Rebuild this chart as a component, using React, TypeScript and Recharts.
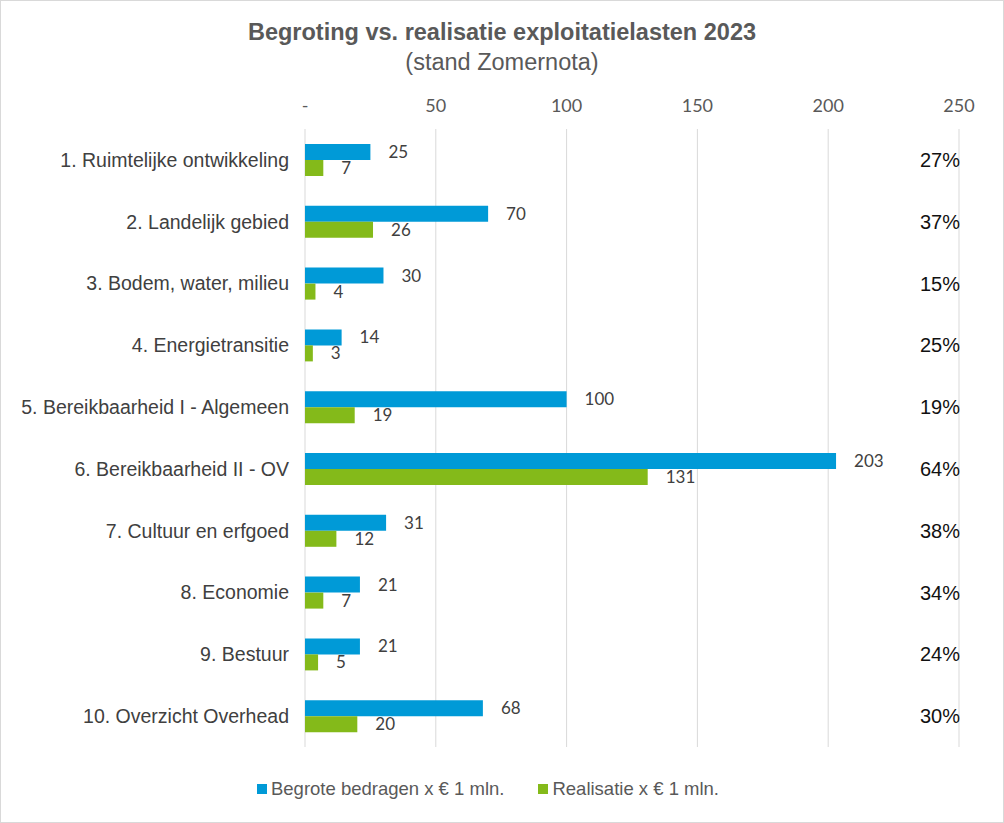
import { BarChart, Bar, XAxis, YAxis, CartesianGrid, Legend, LabelList } from "recharts";

const CATEGORIES = [
  "1. Ruimtelijke ontwikkeling",
  "2. Landelijk gebied",
  "3. Bodem, water, milieu",
  "4. Energietransitie",
  "5. Bereikbaarheid I - Algemeen",
  "6. Bereikbaarheid II - OV",
  "7. Cultuur en erfgoed",
  "8. Economie",
  "9. Bestuur",
  "10. Overzicht Overhead",
];
const BEGROOT = [25, 70, 30, 14, 100, 203, 31, 21, 21, 68];
const REALISATIE = [7, 26, 4, 3, 19, 131, 12, 7, 5, 20];
const PERCENTAGES = ["27%", "37%", "15%", "25%", "19%", "64%", "38%", "34%", "24%", "30%"];
const X_TICKS = [0, 50, 100, 150, 200, 250];

const BLUE = "#009AD7";
const GREEN = "#84BA1A";
const GREY_TEXT = "#595959";
const NUM_FONT = "Lato, 'Open Sans', sans-serif";
const ARIAL = "'Liberation Sans', Arial, sans-serif";

const data = CATEGORIES.map((name, i) => ({
  name,
  begroot: BEGROOT[i],
  realisatie: REALISATIE[i],
  pct: PERCENTAGES[i],
}));

function PctTick(props: any) {
  const { x, y, index } = props;
  return (
    <text x={x} y={y} dy="0.35em" textAnchor="end" fontFamily={ARIAL} fontSize={20} fill="#111">
      {PERCENTAGES[index]}
    </text>
  );
}

function LegendContent() {
  const items = [
    { label: "Begrote bedragen x € 1 mln.", color: BLUE },
    { label: "Realisatie x € 1 mln.", color: GREEN },
  ];
  return (
    <div style={{ display: "flex", justifyContent: "center", gap: 34, marginLeft: -28 }}>
      {items.map((it) => (
        <div key={it.label} style={{ display: "flex", alignItems: "center", gap: 4 }}>
          <span style={{ width: 10, height: 10, background: it.color, display: "inline-block" }} />
          <span style={{ fontFamily: ARIAL, fontSize: 18.5, color: GREY_TEXT }}>{it.label}</span>
        </div>
      ))}
    </div>
  );
}

export default function App() {
  return (
    <div
      style={{
        position: "absolute",
        top: 0,
        left: 0,
        width: 1004,
        height: 823,
        boxSizing: "border-box",
        border: "1px solid #D9D9D9",
        background: "#fff",
      }}
    >
      <div
        style={{
          position: "absolute",
          top: 16,
          left: 0,
          width: 1002,
          textAlign: "center",
          fontFamily: ARIAL,
          color: GREY_TEXT,
          fontSize: 23.5,
          lineHeight: "30px",
        }}
      >
        <div style={{ fontWeight: "bold" }}>Begroting vs. realisatie exploitatielasten 2023</div>
        <div>(stand Zomernota)</div>
      </div>
      <BarChart
        width={1002}
        height={821}
        data={data}
        layout="vertical"
        barGap={0}
        barSize={16}
        margin={{ top: 98, right: 44, bottom: 75, left: 0 }}
      >
        <CartesianGrid horizontal={false} stroke="#D9D9D9" />
        <XAxis
          type="number"
          orientation="top"
          domain={[0, 250]}
          ticks={X_TICKS}
          height={30}
          axisLine={false}
          tickLine={false}
          tickMargin={11}
          tickFormatter={(v: number) => (v === 0 ? "-" : String(v))}
          tick={{ fill: GREY_TEXT, fontSize: 18, fontFamily: NUM_FONT }}
        />
        <YAxis
          yAxisId="cat"
          type="category"
          dataKey="name"
          width={304}
          axisLine={false}
          tickLine={false}
          tickMargin={10}
          tick={{ fill: "#404040", fontSize: 19.5, fontFamily: ARIAL }}
        />
        <YAxis
          yAxisId="pct"
          type="category"
          dataKey="name"
          orientation="right"
          mirror
          axisLine={false}
          tickLine={false}
          tickSize={0}
          tickMargin={-1}
          tick={<PctTick />}
        />
        <Legend
          layout="horizontal"
          align="center"
          verticalAlign="middle"
          wrapperStyle={{ top: 777, left: 0, width: 1002 }}
          content={<LegendContent />}
        />
        <Bar yAxisId="cat" dataKey="begroot" fill={BLUE} isAnimationActive={false}>
          <LabelList dataKey="begroot" position="right" offset={18} fill="#404040" fontSize={17} fontFamily={NUM_FONT} />
        </Bar>
        <Bar yAxisId="cat" dataKey="realisatie" fill={GREEN} isAnimationActive={false}>
          <LabelList dataKey="realisatie" position="right" offset={18} fill="#404040" fontSize={17} fontFamily={NUM_FONT} />
        </Bar>
      </BarChart>
    </div>
  );
}
